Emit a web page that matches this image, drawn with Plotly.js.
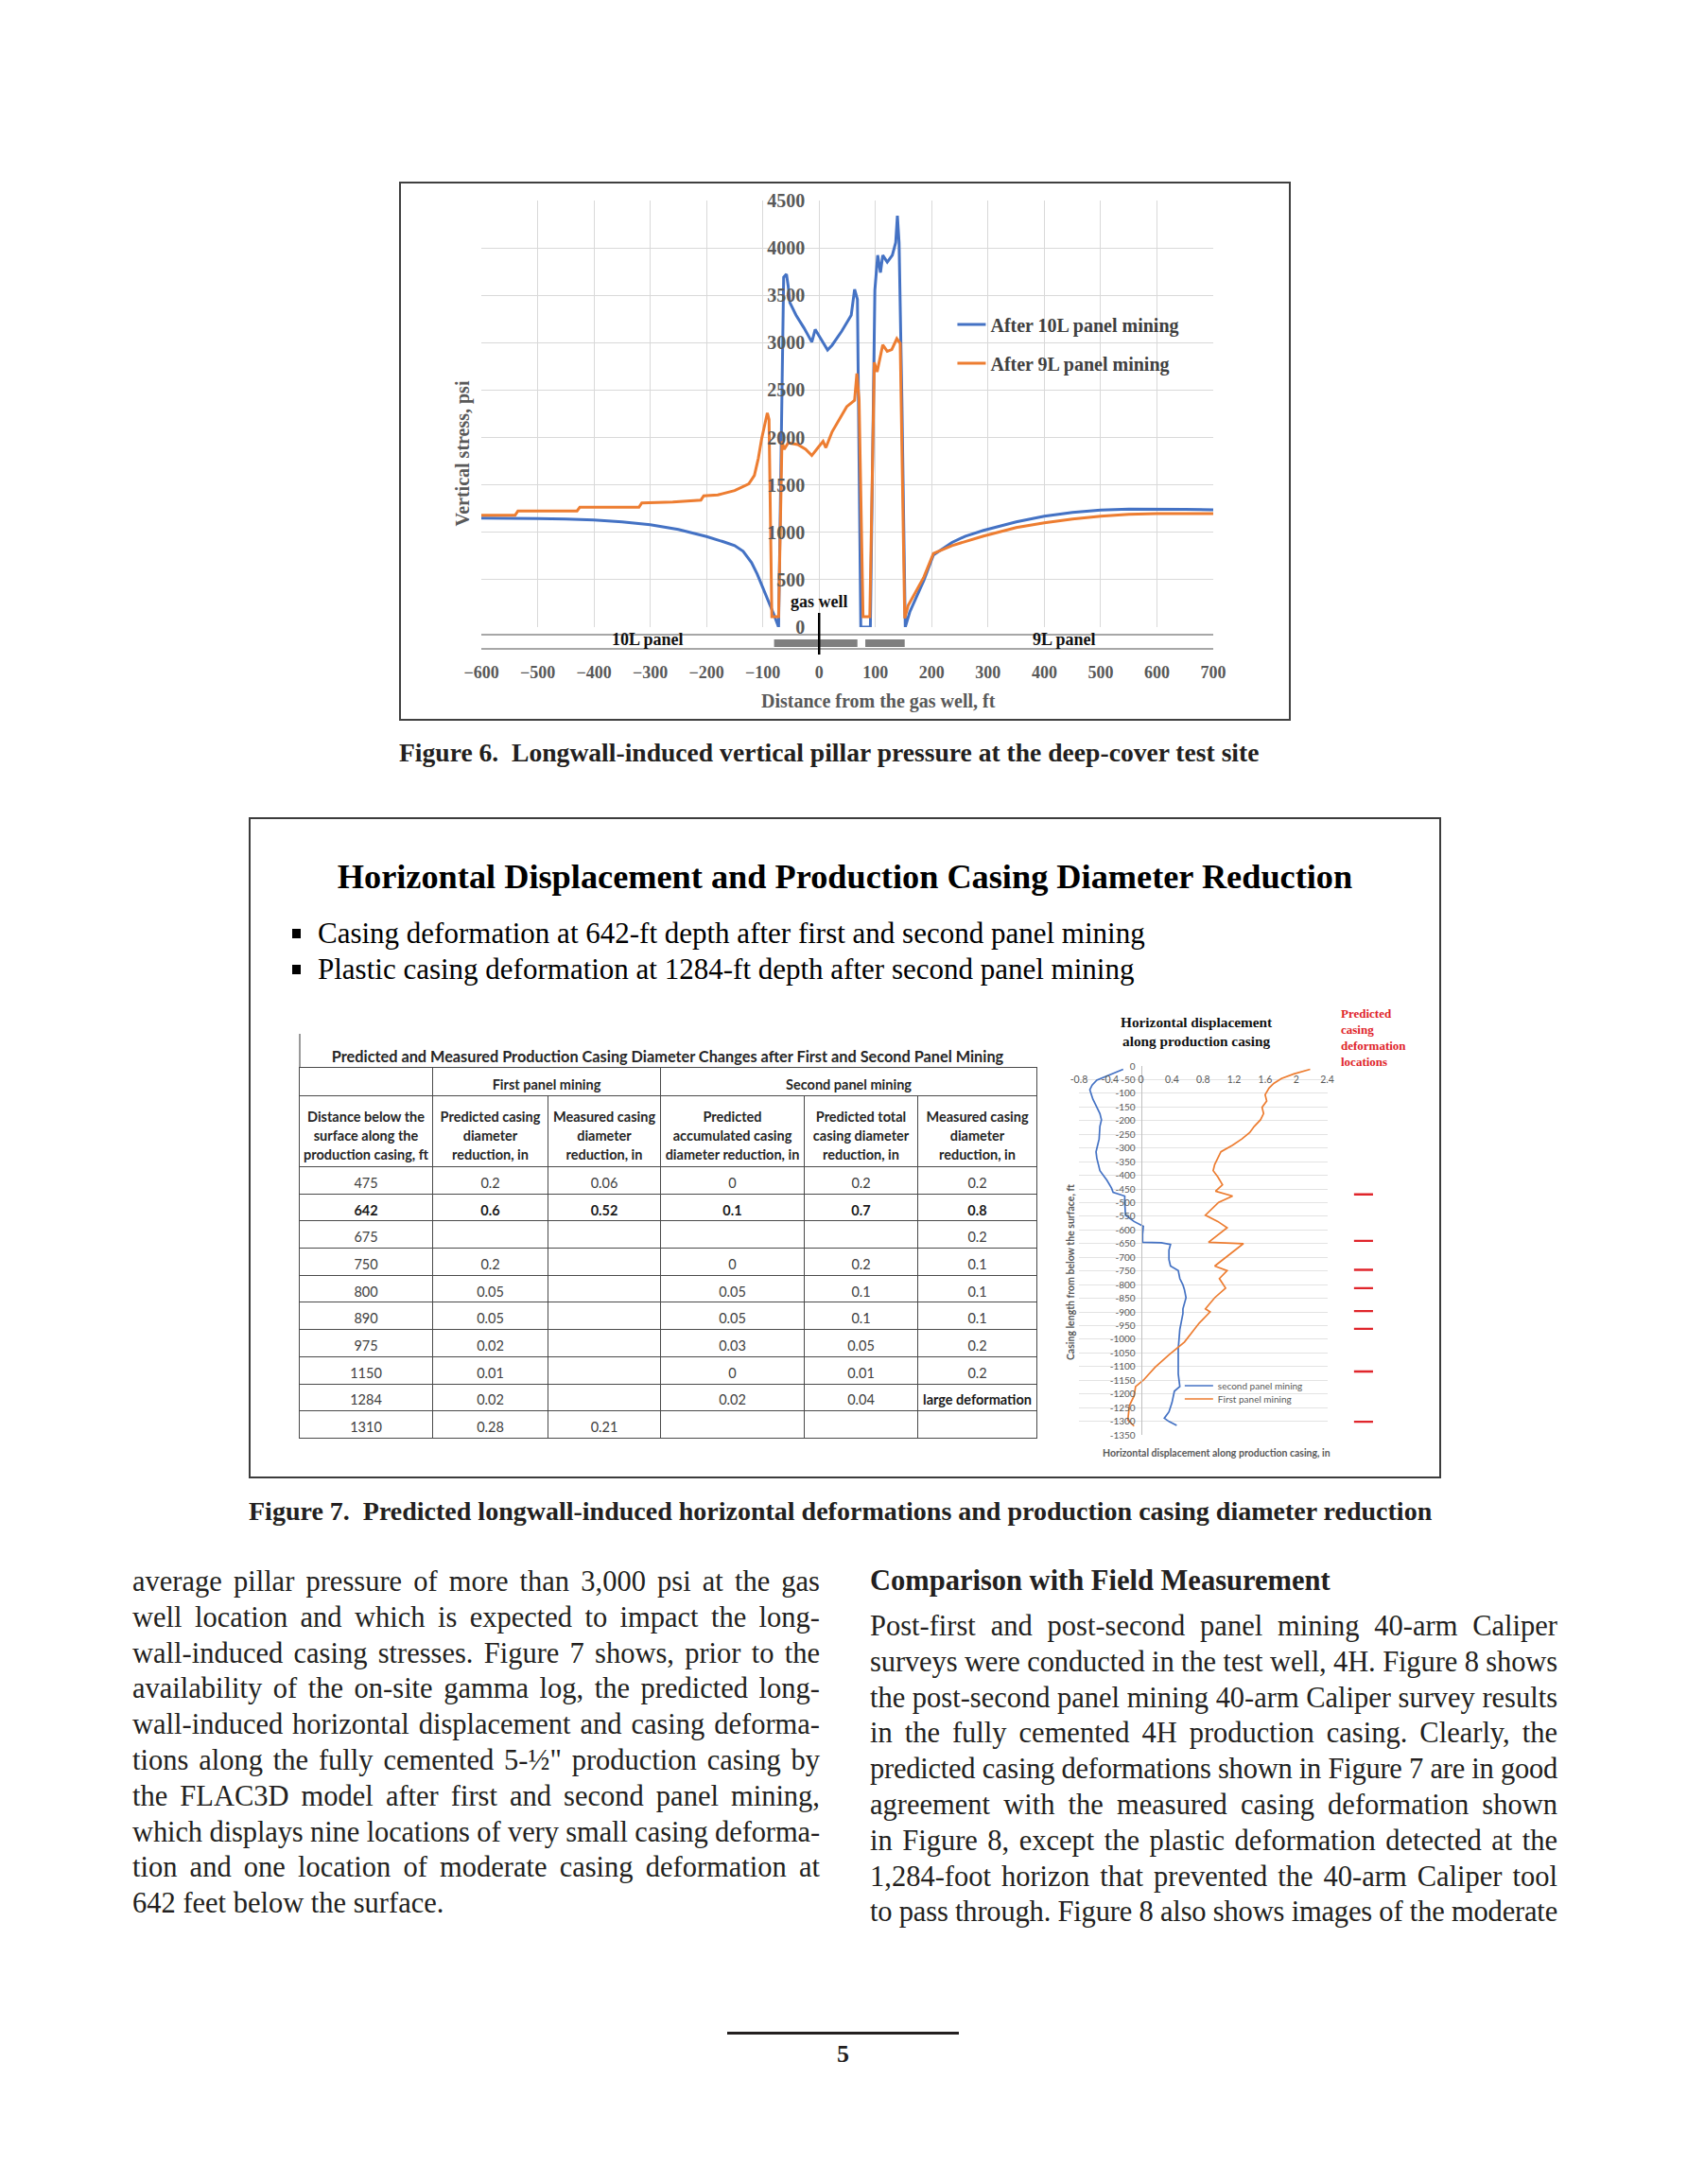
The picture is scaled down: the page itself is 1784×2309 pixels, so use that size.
<!DOCTYPE html>
<html><head><meta charset="utf-8">
<script src="https://cdn.plot.ly/plotly-3.0.1.min.js"></script>
<style>
html,body{margin:0;padding:0;background:#fff;}
#page{position:relative;width:1784px;height:2309px;background:#fff;overflow:hidden;font-family:"Liberation Serif",serif;color:#231f20;}
.abs{position:absolute;}
.cap{position:absolute;font-weight:bold;line-height:34px;white-space:nowrap;color:#231f20;}
.col{position:absolute;width:727px;font-size:30.5px;line-height:37.8px;}
.col .ln{height:37.8px;white-space:nowrap;}
.col .ln span{white-space:nowrap;}
#tbl{position:absolute;left:316px;top:1128px;border-collapse:collapse;table-layout:fixed;width:780px;font-family:Lato,"Noto Sans",sans-serif;font-size:14.5px;color:#404040;}
#tbl td{border:1.5px solid #4a4a4a;text-align:center;padding:0;vertical-align:middle;overflow:hidden;white-space:nowrap;}
#tbl tr.grp td{font-weight:bold;color:#262626;padding-top:6px;}
#tbl tr.hdr td{font-weight:bold;color:#262626;line-height:20px;padding-top:10px;}
#tbl tr.dat td{padding-top:5px;}
#tbl tr.bold td{font-weight:bold;color:#1a1a1a;}
#tbl td.strong{font-weight:bold;color:#1a1a1a;}
</style></head>
<body><div id="page">

<div class="abs" style="left:422px;top:192px;width:943px;height:570px;border:2px solid #404040;box-sizing:border-box;"></div>
<div id="fig6" class="abs" style="left:422px;top:192px;width:943px;height:570px;"></div>
<div class="cap" style="left:422px;top:779px;font-size:27.6px;">Figure 6.&nbsp; Longwall-induced vertical pillar pressure at the deep-cover test site</div>

<div class="abs" style="left:263px;top:864px;width:1261px;height:699px;border:2px solid #3c3c3c;box-sizing:border-box;"></div>
<div class="abs" style="left:263px;width:1261px;top:906px;text-align:center;font-size:36.3px;line-height:42px;font-weight:bold;color:#000;">Horizontal Displacement and Production Casing Diameter Reduction</div>
<div class="abs" style="left:309px;top:968px;font-size:31px;line-height:38px;color:#000;white-space:nowrap;">
 <div><span style="display:inline-block;width:9px;height:10px;background:#000;margin-right:18px;vertical-align:5px;"></span>Casing deformation at 642-ft depth after first and second panel mining</div>
 <div><span style="display:inline-block;width:9px;height:10px;background:#000;margin-right:18px;vertical-align:5px;"></span>Plastic casing deformation at 1284-ft depth after second panel mining</div>
</div>
<div class="abs" style="left:316px;top:1093px;width:1.5px;height:35px;background:#9a9a9a;"></div>
<div id="tblTitle" class="abs" style="left:316px;top:1105px;width:780px;text-align:center;font-family:Lato,'Noto Sans',sans-serif;font-weight:bold;font-size:16.3px;line-height:24px;color:#262626;white-space:nowrap;"></div>
<table id="tbl"></table>
<div id="fig7" class="abs" style="left:1110px;top:1055px;width:410px;height:495px;"></div>
<div class="cap" style="left:263px;top:1581px;font-size:28px;">Figure 7.&nbsp; Predicted longwall-induced horizontal deformations and production casing diameter reduction</div>

<div class="col" style="left:140px;top:1654px;">
<div class="ln"><span>average pillar pressure of more than 3,000 psi at the gas</span></div>
<div class="ln"><span>well location and which is expected to impact the long-</span></div>
<div class="ln"><span>wall-induced casing stresses. Figure 7 shows, prior to the</span></div>
<div class="ln"><span>availability of the on-site gamma log, the predicted long-</span></div>
<div class="ln"><span>wall-induced horizontal displacement and casing deforma-</span></div>
<div class="ln"><span>tions along the fully cemented 5-½" production casing by</span></div>
<div class="ln"><span>the FLAC3D model after first and second panel mining,</span></div>
<div class="ln"><span>which displays nine locations of very small casing deforma-</span></div>
<div class="ln"><span>tion and one location of moderate casing deformation at</span></div>
<div class="ln last"><span>642 feet below the surface.</span></div>
</div>
<div class="abs" style="left:920px;top:1652px;font-size:30.5px;line-height:38px;font-weight:bold;white-space:nowrap;">Comparison with Field Measurement</div>
<div class="col" style="left:920px;top:1701px;">
<div class="ln"><span>Post-first and post-second panel mining 40-arm Caliper</span></div>
<div class="ln"><span>surveys were conducted in the test well, 4H. Figure 8 shows</span></div>
<div class="ln"><span>the post-second panel mining 40-arm Caliper survey results</span></div>
<div class="ln"><span>in the fully cemented 4H production casing. Clearly, the</span></div>
<div class="ln"><span>predicted casing deformations shown in Figure 7 are in good</span></div>
<div class="ln"><span>agreement with the measured casing deformation shown</span></div>
<div class="ln"><span>in Figure 8, except the plastic deformation detected at the</span></div>
<div class="ln"><span>1,284-foot horizon that prevented the 40-arm Caliper tool</span></div>
<div class="ln"><span>to pass through. Figure 8 also shows images of the moderate</span></div>
</div>

<div class="abs" style="left:769px;top:2148px;width:245px;height:3px;background:#231f20;"></div>
<div class="abs" style="left:769px;top:2157px;width:245px;text-align:center;font-size:26px;line-height:30px;font-weight:bold;">5</div>
</div>

<script>
// ---------- Figure 6 data (vertical stress, psi vs distance from gas well, ft) ----------
const dist10L = [-600,-550,-500,-450,-400,-350,-300,-250,-200,-170,-150,-135,-120,-110,-100,-90,-80,-72,-63,-58,-55,-52,-41,-27,-13,-7,1,15,23,40,57,63,68,74,91,99,104,109,113,121,130,136,139,142,147,153,161,175,186,203,220,236,260,292,350,400,450,500,550,600,650,700];
const stress10L = [1150,1150,1145,1140,1130,1110,1080,1030,955,900,860,800,680,560,420,270,127,0,3690,3723,3600,3423,3290,3157,3007,3140,3057,2924,2974,3120,3290,3563,3457,0,0,3557,3923,3740,3923,3850,3923,4056,4340,4057,2393,0,160,350,493,760,830,893,960,1020,1110,1170,1210,1235,1245,1245,1242,1237];
const dist9L = [-600,-540,-535,-430,-425,-320,-315,-260,-210,-205,-180,-150,-125,-115,-108,-102,-92,-89,-84,-72,-66,-62,-55,-38,-24,-13,-2,7,12,23,49,63,67,71,78,90,98,103,113,121,129,138,144,152,158,186,203,236,292,350,400,450,500,550,600,650,700];
const stress9L = [1180,1180,1225,1225,1265,1265,1310,1320,1340,1385,1395,1440,1510,1600,1780,1990,2260,2190,110,110,1960,1876,1943,1926,1876,1810,1893,1960,1893,2060,2326,2393,2676,2393,110,110,2793,2693,2977,2910,2927,3043,2993,93,227,527,777,860,960,1050,1100,1140,1170,1190,1198,1200,1198];
const seriesNames6 = ['After 10L panel mining','After 9L panel mining'];
const distTicks = [-600,-500,-400,-300,-200,-100,0,100,200,300,400,500,600,700];
const stressTicks = [0,500,1000,1500,2000,2500,3000,3500,4000,4500];
const pillarSpans = [[-80,68],[82,152]];   // gray pillar blocks on the panel strip, ft
const panelLabels = ['10L panel','9L panel'];
const panelLabelPos = [-305,435];
const gasWellX = 0;

// ---------- Figure 7 table data ----------
const tableTitle = 'Predicted and Measured Production Casing Diameter Changes after First and Second Panel Mining';
const groupHeaders = ['', 'First panel mining', 'Second panel mining'];
const colHeaders = ['Distance below the<br>surface along the<br>production casing, ft','Predicted casing<br>diameter<br>reduction, in','Measured casing<br>diameter<br>reduction, in','Predicted<br>accumulated casing<br>diameter reduction, in','Predicted total<br>casing diameter<br>reduction, in','Measured casing<br>diameter<br>reduction, in'];
const depthFt = ['475','642','675','750','800','890','975','1150','1284','1310'];
const firstPredicted = ['0.2','0.6','','0.2','0.05','0.05','0.02','0.01','0.02','0.28'];
const firstMeasured = ['0.06','0.52','','','','','','','','0.21'];
const secondPredAccum = ['0','0.1','','0','0.05','0.05','0.03','0','0.02',''];
const secondPredTotal = ['0.2','0.7','','0.2','0.1','0.1','0.05','0.01','0.04',''];
const secondMeasured = ['0.2','0.8','0.2','0.1','0.1','0.1','0.2','0.2','large deformation',''];

// ---------- Figure 7 chart data (horizontal displacement, in vs depth, ft) ----------
const depthSecond = [-12,-37,-52,-70,-87,-105,-122,-139,-157,-174,-197,-221,-267,-314,-337,-383,-418,-447,-462,-476,-499,-546,-569,-587,-616,-645,-647,-653,-674,-708,-732,-749,-778,-801,-819,-848,-889,-906,-935,-964,-999,-1034,-1080,-1127,-1173,-1190,-1231,-1266,-1289,-1301,-1315];
const dispSecond = [-0.23,-0.44,-0.57,-0.63,-0.66,-0.64,-0.62,-0.59,-0.56,-0.53,-0.51,-0.53,-0.54,-0.58,-0.57,-0.53,-0.44,-0.38,-0.36,-0.21,-0.21,-0.20,-0.09,0.03,0.02,0.02,0.26,0.38,0.36,0.36,0.38,0.48,0.50,0.54,0.56,0.58,0.54,0.54,0.52,0.50,0.49,0.48,0.48,0.48,0.50,0.43,0.40,0.36,0.30,0.36,0.46];
const depthFirst = [-12,-29,-46,-64,-81,-105,-128,-151,-174,-197,-221,-244,-267,-290,-314,-337,-360,-383,-406,-435,-458,-476,-499,-546,-569,-592,-615,-645,-650,-697,-732,-749,-778,-813,-848,-889,-900,-941,-987,-1010,-1057,-1103,-1150,-1173,-1208,-1243,-1295,-1318];
const dispFirst = [2.18,1.97,1.81,1.71,1.65,1.60,1.62,1.56,1.58,1.54,1.46,1.40,1.30,1.18,1.03,0.99,0.95,0.93,0.99,1.05,0.96,1.18,1.00,0.83,0.99,1.11,1.01,0.87,1.32,1.11,0.95,1.11,1.01,1.09,0.95,0.83,0.89,0.75,0.62,0.56,0.36,0.18,0.03,-0.07,-0.09,-0.15,-0.17,-0.09];
const seriesNames7 = ['second panel mining','First panel mining'];
const deformLocations = [-470,-640,-746,-813,-897,-962,-1118,-1302];
const dispTicks = [-0.8,-0.4,0,0.4,0.8,1.2,1.6,2,2.4];
const dispTickText = ['-0.8','-0.4','0','0.4','0.8','1.2','1.6','2','2.4'];
const depthTicks = [];
for (let d = 0; d >= -1350; d -= 50) depthTicks.push(d);
const depthTickText = depthTicks.map(d => String(d));

// ================= Figure 6 =================
const serif = 'Liberation Serif, Times New Roman, serif';
const f6tickY = {family: serif, size: 20, color: '#595959', weight: 'bold'};
const f6tickX = {family: serif, size: 18, color: '#595959', weight: 'bold'};
const stripTopY = -0.0177, stripBotY = -0.051, pillarTop = -0.0288, pillarBot = -0.0466;
const shapes6 = [
  {type:'line', xref:'x', yref:'paper', x0:-600, x1:700, y0:stripTopY, y1:stripTopY, line:{color:'#8a8a8a', width:1.6}},
  {type:'line', xref:'x', yref:'paper', x0:-600, x1:700, y0:stripBotY, y1:stripBotY, line:{color:'#8a8a8a', width:1.6}}
];
pillarSpans.forEach(s => shapes6.push({type:'rect', xref:'x', yref:'paper', x0:s[0], x1:s[1], y0:pillarBot, y1:pillarTop, fillcolor:'#7f7f7f', line:{width:0}}));
shapes6.push({type:'line', xref:'x', yref:'paper', x0:gasWellX, x1:gasWellX, y0:0.0333, y1:-0.0643, line:{color:'#000', width:2.5}});

const ann6 = [
  {text:'Vertical stress, psi', xref:'paper', yref:'paper', x:-0.024, y:0.408, xanchor:'center', yanchor:'middle', textangle:-90, showarrow:false, font:{family:serif, size:20, color:'#595959', weight:'bold'}},
  {text:'Distance from the gas well, ft', xref:'paper', yref:'paper', x:0.543, y:-0.173, xanchor:'center', yanchor:'middle', showarrow:false, font:{family:serif, size:20, color:'#595959', weight:'bold'}},
  {text:'gas well', xref:'x', yref:'paper', x:gasWellX, y:0.06, xanchor:'center', yanchor:'middle', showarrow:false, font:{family:serif, size:18, color:'#111', weight:'bold'}}
];
panelLabels.forEach((t,i) => ann6.push({text:t, xref:'x', yref:'paper', x:panelLabelPos[i], y:-0.029, xanchor:'center', yanchor:'middle', showarrow:false, font:{family:serif, size:18, color:'#111', weight:'bold'}}));

const legFont6 = {family:serif, size:20, color:'#404040', weight:'bold'};
Plotly.newPlot('fig6', [
  {x: dist10L, y: stress10L, name: seriesNames6[0], type:'scatter', mode:'lines', line:{color:'#4472c4', width:3}, cliponaxis:false, legend:'legend'},
  {x: dist9L, y: stress9L, name: seriesNames6[1], type:'scatter', mode:'lines', line:{color:'#ed7d31', width:3}, cliponaxis:false, legend:'legend2'}
], {
  width:943, height:570, margin:{l:87, r:82, t:20, b:99},
  paper_bgcolor:'rgba(0,0,0,0)', plot_bgcolor:'rgba(0,0,0,0)',
  showlegend:true,
  legend:{x:0.644, y:0.7095, xanchor:'left', yanchor:'middle', itemwidth:30, bgcolor:'rgba(0,0,0,0)', font:legFont6},
  legend2:{x:0.644, y:0.6186, xanchor:'left', yanchor:'middle', itemwidth:30, bgcolor:'rgba(0,0,0,0)', font:legFont6},
  xaxis:{range:[-600,700], tickvals:distTicks, showgrid:true, gridcolor:'#d9d9d9', gridwidth:1, zeroline:false, showline:false, ticks:'outside', ticklen:31, tickcolor:'rgba(0,0,0,0)', tickfont:f6tickX, fixedrange:true},
  yaxis:{range:[0,4500], tickvals:stressTicks, anchor:'free', position:0.4615, showgrid:true, gridcolor:'#d9d9d9', gridwidth:1, zeroline:false, showline:false, ticks:'outside', ticklen:11, tickcolor:'rgba(0,0,0,0)', tickfont:f6tickY, fixedrange:true},
  shapes: shapes6, annotations: ann6
}, {staticPlot:true});

// ================= Table =================
(function(){
  document.getElementById('tblTitle').textContent = tableTitle;
  const tbl = document.getElementById('tbl');
  const widths = [141,122,119,152,120,126];
  let html = '<colgroup>' + widths.map(w => '<col style="width:'+w+'px">').join('') + '</colgroup>';
  html += '<tr class="grp" style="height:30px"><td>'+groupHeaders[0]+'</td><td colspan="2">'+groupHeaders[1]+'</td><td colspan="3">'+groupHeaders[2]+'</td></tr>';
  html += '<tr class="hdr" style="height:75px">' + colHeaders.map(h => '<td>'+h+'</td>').join('') + '</tr>';
  const cols = [depthFt, firstPredicted, firstMeasured, secondPredAccum, secondPredTotal, secondMeasured];
  for (let r = 0; r < depthFt.length; r++) {
    const cls = depthFt[r] === '642' ? 'dat bold' : 'dat';
    html += '<tr class="'+cls+'" style="height:28.7px">' + cols.map(c => {
      const v = c[r];
      return '<td' + (isNaN(parseFloat(v)) && v !== '' ? ' class="strong"' : '') + '>' + v + '</td>';
    }).join('') + '</tr>';
  }
  tbl.innerHTML = html;
})();

// ================= Figure 7 chart =================
const sans = 'Lato, Noto Sans, sans-serif';
const dashX = [], dashY = [];
deformLocations.forEach(d => { dashX.push(0.37, 0.82, null); dashY.push(d, d, null); });
const legFont7 = {family:sans, size:10, color:'#595959'};
Plotly.newPlot('fig7', [
  {x: dispSecond, y: depthSecond, name: seriesNames7[0], type:'scatter', mode:'lines', line:{color:'#4472c4', width:1.7}, xaxis:'x', yaxis:'y', legend:'legend'},
  {x: dispFirst, y: depthFirst, name: seriesNames7[1], type:'scatter', mode:'lines', line:{color:'#ed7d31', width:1.7}, xaxis:'x', yaxis:'y', legend:'legend2'},
  {x: dashX, y: dashY, type:'scatter', mode:'lines', line:{color:'#e0252b', width:2.4}, xaxis:'x2', yaxis:'y2', showlegend:false, connectgaps:false}
], {
  width:410, height:495, margin:{l:31, r:60, t:72, b:33},
  paper_bgcolor:'rgba(0,0,0,0)', plot_bgcolor:'rgba(0,0,0,0)',
  showlegend:true,
  legend:{x:0.335, y:0.1333, xanchor:'left', yanchor:'middle', itemwidth:30, bgcolor:'rgba(0,0,0,0)', font:legFont7},
  legend2:{x:0.335, y:0.0974, xanchor:'left', yanchor:'middle', itemwidth:30, bgcolor:'rgba(0,0,0,0)', font:legFont7},
  xaxis:{domain:[0,0.823], range:[-0.8,2.4], tickvals:dispTicks, ticktext:dispTickText, anchor:'free', position:1, side:'bottom', showgrid:false, zeroline:false, showline:false, ticks:'outside', ticklen:4, tickcolor:'rgba(0,0,0,0)', tickfont:{family:sans, size:10.5, color:'#595959'}},
  yaxis:{domain:[0,1], range:[-1350,0], tickvals:depthTicks, ticktext:depthTickText, anchor:'free', position:0.2058, showline:true, linecolor:'#bfbfbf', linewidth:1, showgrid:true, gridcolor:'#e3e3e3', zeroline:false, ticks:'outside', ticklen:4, tickcolor:'rgba(0,0,0,0)', tickfont:{family:sans, size:10, color:'#595959'}},
  xaxis2:{domain:[0.86,1], range:[0,1], visible:false, anchor:'y2'},
  yaxis2:{domain:[0,1], range:[-1350,0], visible:false, anchor:'x2'},
  annotations:[
    {text:'<b>Horizontal displacement<br>along production casing</b>', xref:'paper', yref:'paper', x:0.389, y:1.094, xanchor:'center', yanchor:'middle', showarrow:false, font:{family:serif, size:15.3, color:'#111'}},
    {text:'<b>Predicted<br>casing<br>deformation<br>locations</b>', xref:'paper', yref:'paper', x:0.862, y:1.077, xanchor:'left', yanchor:'middle', align:'left', showarrow:false, font:{family:serif, size:13, color:'#e0252b'}},
    {text:'Horizontal displacement along production casing, in', xref:'paper', yref:'paper', x:0.455, y:-0.049, xanchor:'center', yanchor:'middle', showarrow:false, font:{family:sans, size:10.5, color:'#595959', weight:'bold'}},
    {text:'Casing length from below the surface, ft', xref:'paper', yref:'paper', x:-0.028, y:0.441, xanchor:'center', yanchor:'middle', textangle:-90, showarrow:false, font:{family:sans, size:10.5, color:'#595959', weight:'bold'}}
  ]
}, {staticPlot:true});

// ================= justify body text lines =================
function justifyLines() {
  const W = 727;
  document.querySelectorAll('.col .ln').forEach(ln => {
    const sp = ln.firstElementChild;
    sp.style.wordSpacing = '0px'; sp.style.letterSpacing = '0px';
    const w = sp.getBoundingClientRect().width;
    const spaces = (sp.textContent.match(/ /g) || []).length;
    if (w > W) {
      sp.style.letterSpacing = (-(w - W) / sp.textContent.length) + 'px';
    } else if (!ln.classList.contains('last') && spaces > 0) {
      sp.style.wordSpacing = ((W - w) / spaces) + 'px';
    }
  });
}
justifyLines();
if (document.fonts && document.fonts.ready) document.fonts.ready.then(justifyLines);
</script>
</body></html>
